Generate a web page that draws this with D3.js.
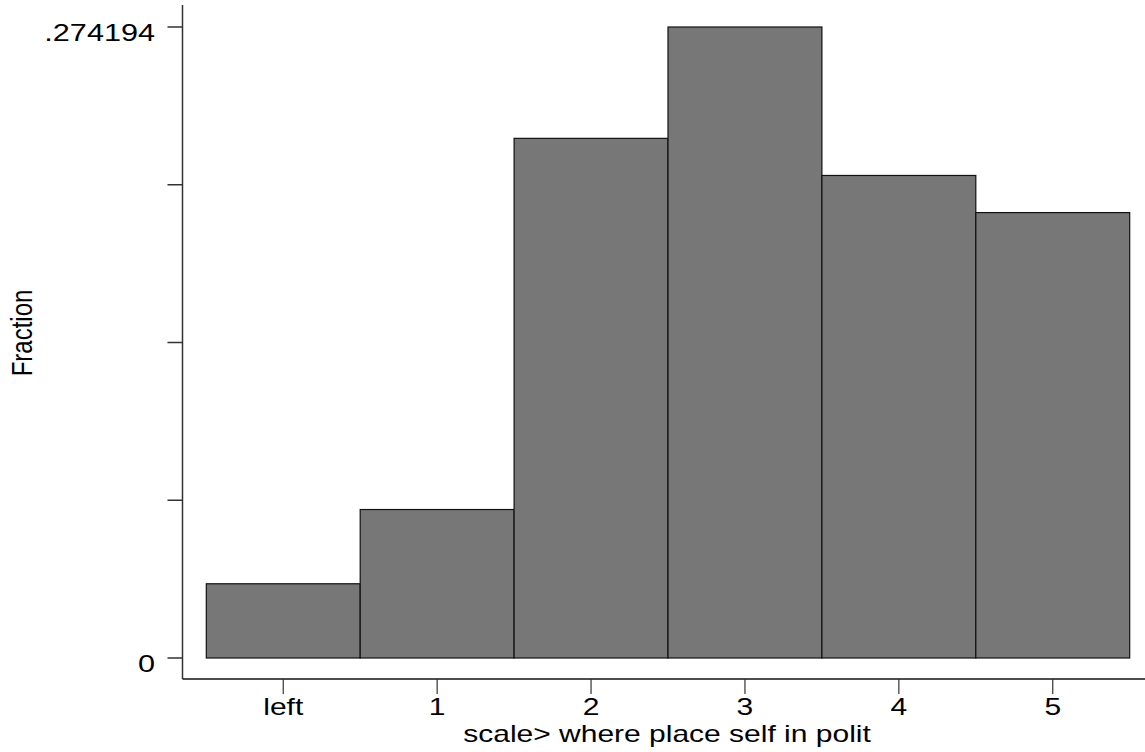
<!DOCTYPE html>
<html><head><meta charset="utf-8">
<script src="https://cdn.jsdelivr.net/npm/d3@7"></script>
<style>body{margin:0;background:#fff}svg{display:block}text{font-family:"Liberation Sans",Arial,sans-serif;fill:#000}</style>
</head><body>
<svg id="c" width="1145" height="752"></svg>
<script>
const categories = ["left","1","2","3","4","5"];
const values = [0,1,2,3,4,5];
const fractions = [2/62, 4/62, 14/62, 17/62, 13/62, 12/62];
const yMax = 17/62;
const yTickValues = [0, yMax/4, yMax/2, 3*yMax/4, yMax];
const yTickLabels = ["0", "", "", "", ".274194"];
const xTitle = "scale> where place self in polit";
const yTitle = "Fraction";

const svg = d3.select("#c");
const FS = 24, SX = 1.25;
const x = d3.scaleLinear().domain([-0.5, 5.5]).range([206.3, 1129.7]);
const y = d3.scaleLinear().domain([0, yMax]).range([658, 27]);

// bars
svg.append("g").selectAll("rect").data(values).join("rect")
  .attr("x", (d)=>x(d-0.5)).attr("width", (d)=>x(d+0.5)-x(d-0.5))
  .attr("y", (d,i)=>y(fractions[i])).attr("height", (d,i)=>y(0)-y(fractions[i]))
  .attr("fill", "#777777").attr("stroke", "#111").attr("stroke-width", 1.2);

// y axis
const axX = 182.5, axY = 679;
svg.append("line").attr("x1", axX).attr("x2", axX).attr("y1", 5).attr("y2", axY)
  .attr("stroke", "#333").attr("stroke-width", 1.5);
const yt = svg.append("g");
yt.selectAll("line").data(yTickValues).join("line")
  .attr("x1", axX-15).attr("x2", axX).attr("y1", d=>y(d)).attr("y2", d=>y(d))
  .attr("stroke", "#333").attr("stroke-width", 1.5);
yt.selectAll("text").data(yTickValues).join("text")
  .attr("transform", d=>`translate(155,${y(d)+14}) scale(${SX},1)`)
  .attr("text-anchor", "end").attr("font-size", FS+0.5)
  .text((d,i)=>yTickLabels[i]);

// x axis
svg.append("line").attr("x1", axX).attr("x2", 1145).attr("y1", axY).attr("y2", axY)
  .attr("stroke", "#111").attr("stroke-width", 1.5);
const xt = svg.append("g");
xt.selectAll("line").data(values).join("line")
  .attr("x1", d=>x(d)).attr("x2", d=>x(d)).attr("y1", axY).attr("y2", axY+15)
  .attr("stroke", "#333").attr("stroke-width", 1.2);
xt.selectAll("text").data(values).join("text")
  .attr("transform", d=>`translate(${x(d)},715) scale(${SX},1)`)
  .attr("text-anchor", "middle").attr("font-size", FS)
  .text((d,i)=>categories[i]);

// titles
svg.append("text").attr("transform", `translate(667,742) scale(${SX},1)`)
  .attr("text-anchor", "middle").attr("font-size", FS).text(xTitle);
svg.append("text").attr("transform", `translate(32,333) scale(${SX},1) rotate(-90)`)
  .attr("text-anchor", "middle").attr("font-size", FS).text(yTitle);
</script>
</body></html>
